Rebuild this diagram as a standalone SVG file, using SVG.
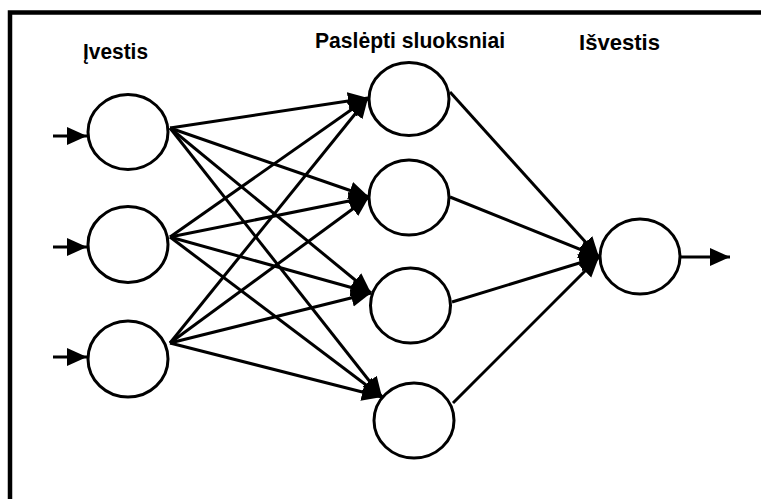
<svg xmlns="http://www.w3.org/2000/svg" width="761" height="499" viewBox="0 0 761 499">
<style>
.node{fill:#fff;stroke:#000;stroke-width:3}
.edge{stroke:#000;stroke-width:3;fill:none}
.lbl{font-family:"Liberation Sans",Arial,sans-serif;font-weight:bold;font-size:22px;fill:#000}
</style>
<defs>
<marker id="ah" markerUnits="userSpaceOnUse" markerWidth="22" markerHeight="20" viewBox="0 0 22 20" refX="20" refY="10" orient="auto">
<path d="M0,1 L20,10 L0,19 Z" fill="#000"/>
</marker>
</defs>
<rect width="761" height="499" fill="#fff"/>
<path d="M10,499 V12.5 H761" fill="none" stroke="#000" stroke-width="4.5"/>
<g id="labels">
<text class="lbl" x="83" y="59" textLength="65" lengthAdjust="spacingAndGlyphs">Įvestis</text>
<text class="lbl" x="315" y="48" textLength="190" lengthAdjust="spacingAndGlyphs">Paslėpti sluoksniai</text>
<text class="lbl" x="579" y="50" textLength="81" lengthAdjust="spacingAndGlyphs">Išvestis</text>
</g>
<g id="connectors">
<line class="edge" x1="53" y1="136" x2="87" y2="136" marker-end="url(#ah)"/>
<line class="edge" x1="53" y1="247" x2="87" y2="247" marker-end="url(#ah)"/>
<line class="edge" x1="53" y1="357" x2="87" y2="357" marker-end="url(#ah)"/>
<line class="edge" x1="170" y1="128" x2="368" y2="98" marker-end="url(#ah)"/>
<line class="edge" x1="170" y1="128" x2="369" y2="197" marker-end="url(#ah)"/>
<line class="edge" x1="170" y1="128" x2="371" y2="293" marker-end="url(#ah)"/>
<line class="edge" x1="170" y1="128" x2="382" y2="397" marker-end="url(#ah)"/>
<line class="edge" x1="170" y1="237" x2="368" y2="98" marker-end="url(#ah)"/>
<line class="edge" x1="170" y1="237" x2="369" y2="197" marker-end="url(#ah)"/>
<line class="edge" x1="170" y1="237" x2="371" y2="293" marker-end="url(#ah)"/>
<line class="edge" x1="170" y1="237" x2="382" y2="397" marker-end="url(#ah)"/>
<line class="edge" x1="170" y1="343" x2="368" y2="98" marker-end="url(#ah)"/>
<line class="edge" x1="170" y1="343" x2="369" y2="197" marker-end="url(#ah)"/>
<line class="edge" x1="170" y1="343" x2="371" y2="293" marker-end="url(#ah)"/>
<line class="edge" x1="170" y1="343" x2="382" y2="397" marker-end="url(#ah)"/>
<line class="edge" x1="450" y1="92" x2="599" y2="257" marker-end="url(#ah)"/>
<line class="edge" x1="450" y1="197" x2="599" y2="257" marker-end="url(#ah)"/>
<line class="edge" x1="452" y1="302" x2="599" y2="257" marker-end="url(#ah)"/>
<line class="edge" x1="453" y1="403" x2="599" y2="257" marker-end="url(#ah)"/>
<line class="edge" x1="681" y1="257" x2="730" y2="257" marker-end="url(#ah)"/>
</g>
<g id="in1"><ellipse class="node" cx="128" cy="132" rx="40" ry="37.5"/></g>
<g id="in2"><ellipse class="node" cx="128" cy="244.5" rx="40" ry="38"/></g>
<g id="in3"><ellipse class="node" cx="128" cy="359" rx="40" ry="38"/></g>
<g id="h1"><ellipse class="node" cx="409" cy="99" rx="40" ry="36.5"/></g>
<g id="h2"><ellipse class="node" cx="409" cy="197.5" rx="40" ry="37.5"/></g>
<g id="h3"><ellipse class="node" cx="410.5" cy="305.5" rx="40" ry="37.5"/></g>
<g id="h4"><ellipse class="node" cx="414" cy="420.5" rx="40" ry="37.5"/></g>
<g id="out"><ellipse class="node" cx="640" cy="256.5" rx="40" ry="37.5"/></g>
</svg>
